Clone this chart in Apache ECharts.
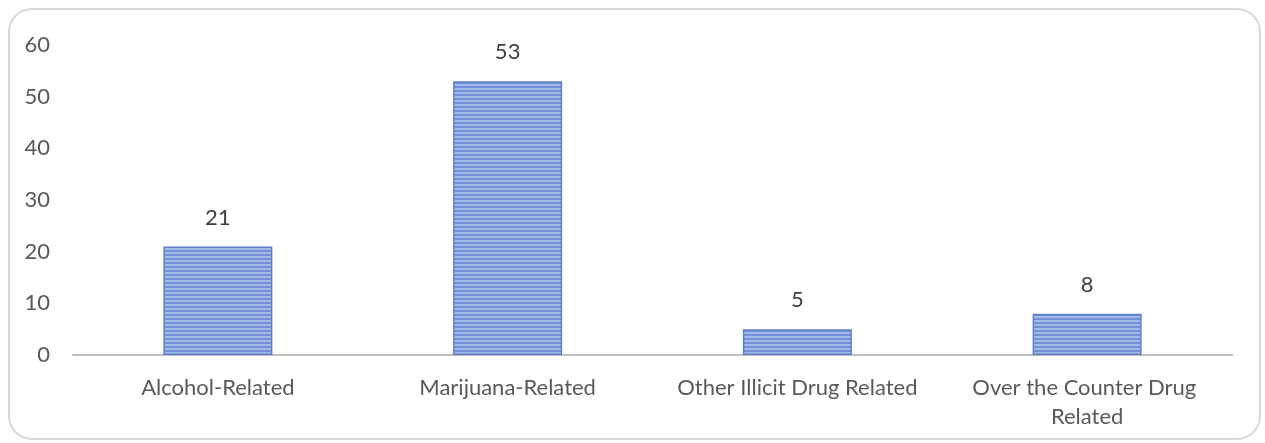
<!DOCTYPE html>
<html>
<head>
<meta charset="utf-8">
<script src="https://cdn.jsdelivr.net/npm/echarts@6/dist/echarts.min.js"></script>
<style>
  html, body { margin: 0; padding: 0; background: #ffffff; }
  #frame {
    position: absolute; left: 8px; top: 8px; width: 1253px; height: 432px;
    border: 2px solid #d9d9d9; border-radius: 24px; box-sizing: border-box;
  }
  #chart { position: absolute; left: 0; top: 0; width: 1265px; height: 443px; }
</style>
</head>
<body>
<div id="frame"></div>
<div id="chart"></div>
<script>
// Categories, counts and value-axis ticks
const categories = ['Alcohol-Related', 'Marijuana-Related', 'Other Illicit Drug Related', 'Over the Counter Drug Related'];
const counts = [21, 53, 5, 8];
const yTicks = [0, 10, 20, 30, 40, 50, 60];

// Horizontal stripe fill for the bars
function stripePattern() {
  const c = document.createElement('canvas');
  c.width = 8; c.height = 4;
  const g = c.getContext('2d');
  g.fillStyle = '#a2baea'; g.fillRect(0, 0, 8, 2);
  g.fillStyle = '#7190d6'; g.fillRect(0, 2, 8, 2);
  return c;
}

const font = 'Lato, "Open Sans", sans-serif';
const chart = echarts.init(document.getElementById('chart'), null, { renderer: 'canvas' });
chart.setOption({
  animation: false,
  grid: { left: 73, right: 33, top: 45, bottom: 88, containLabel: false },
  xAxis: {
    type: 'category',
    data: categories,
    axisTick: { show: false },
    axisLine: { lineStyle: { color: '#bfbfbf', width: 2 } },
    axisLabel: {
      color: '#595959', fontFamily: font, fontSize: 22, lineHeight: 29,
      margin: 18, interval: 0, width: 260, overflow: 'break'
    }
  },
  yAxis: {
    type: 'value',
    min: yTicks[0], max: yTicks[yTicks.length - 1], interval: 10,
    axisLine: { show: false },
    axisTick: { show: false },
    splitLine: { show: false },
    axisLabel: { color: '#595959', fontFamily: font, fontSize: 22, margin: 23 }
  },
  series: [{
    type: 'bar',
    data: counts,
    barWidth: 109,
    itemStyle: {
      color: { image: stripePattern(), repeat: 'repeat' },
      borderColor: '#5f80c8', borderWidth: 1.5
    },
    label: {
      show: true, position: 'top', distance: 18,
      color: '#404040', fontFamily: font, fontSize: 22
    }
  }]
});
</script>
</body>
</html>
